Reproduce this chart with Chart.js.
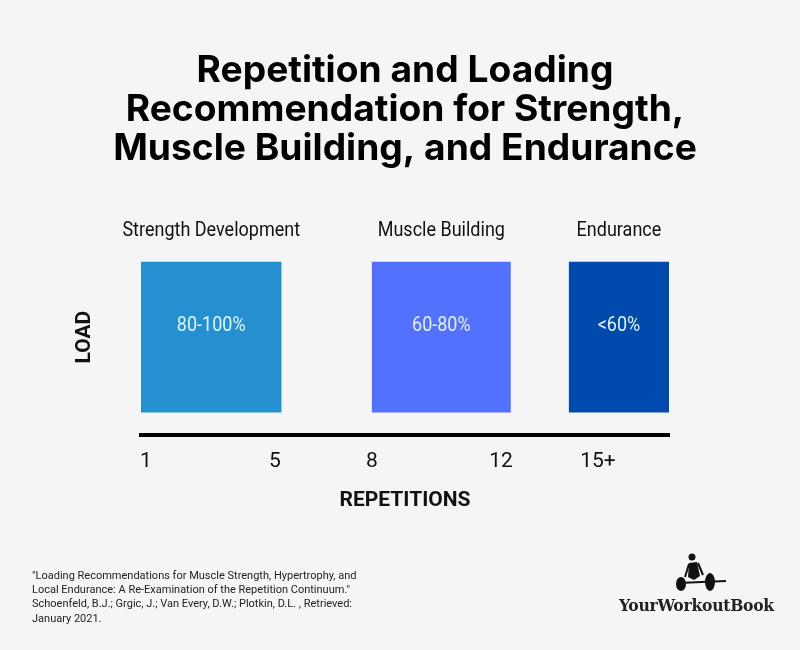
<!DOCTYPE html>
<html>
<head>
<meta charset="utf-8">
<script src="https://cdn.jsdelivr.net/npm/chart.js@4.4.1/dist/chart.umd.min.js"></script>
<style>
  body { margin:0; background:#f5f5f5; }
  #wrap { position:relative; width:800px; height:650px; }
  #note { position:absolute; left:32px; top:569px; font:11px Roboto, sans-serif; line-height:14.2px; color:#222; white-space:nowrap; }
  #logo { position:absolute; left:619px; top:595px; font:bold 17.4px "DejaVu Serif Condensed", serif; color:#222; letter-spacing:-0.3px; }
  #icon { position:absolute; left:670px; top:550px; }
</style>
</head>
<body>
<div id="wrap">
  <canvas id="myChart" width="800" height="650"></canvas>
  <div id="note">"Loading Recommendations for Muscle Strength, Hypertrophy, and<br>Local Endurance: A Re-Examination of the Repetition Continuum."<br>Schoenfeld, B.J.; Grgic, J.; Van Every, D.W.; Plotkin, D.L. , Retrieved:<br>January 2021.</div>
  <svg id="icon" width="60" height="45" viewBox="0 0 60 45">
    <circle cx="22" cy="7" r="3.5" fill="#111"/>
    <path d="M19 13 L27 12 L30 26 L24 30 L18 27 Z" fill="#111"/>
    <path d="M19 14 L15 27 M28 13 L33 25" stroke="#111" stroke-width="2" fill="none"/>
    <line x1="8" y1="33" x2="56" y2="31" stroke="#111" stroke-width="2.2"/>
    <ellipse cx="11" cy="34" rx="5" ry="7" fill="#111"/>
    <ellipse cx="40" cy="32" rx="5" ry="9" fill="#111"/>
  </svg>
  <div id="logo">YourWorkoutBook</div>
</div>
<script>
// goals and their rep ranges (reps axis)
var goals = ['Strength Development', 'Muscle Building', 'Endurance']
var loads = ['80-100%', '60-80%', '<60%']
var repRanges = [[0.85, 5.2], [8, 12.3], [14.1, 17.2]]
var colors = ['#2590cf', '#5271ff', '#004aad']
var tickValues = [1, 5, 8, 12, 15]
var tickLabels = ['1', '5', '8', '12', '15+']

// narrow text like the original condensed face
function narrowText(ctx, text, x, y, sx){
    ctx.save()
    ctx.translate(x, y)
    ctx.scale(sx, 1)
    ctx.fillText(text, 0, 0)
    ctx.restore()
}

var labelPlugin = {
    id: 'boxLabels',
    afterDatasetsDraw(chart){
        var ctx = chart.ctx
        ctx.save()
        ctx.textAlign = 'center'
        ctx.textBaseline = 'middle'
        chart.data.datasets.forEach(function(ds, i){
            var bar = chart.getDatasetMeta(i).data[0]
            var cx = (bar.x + bar.base) / 2
            var top = bar.y - bar.height/2
            ctx.fillStyle = '#111'
            ctx.font = '20px Roboto, sans-serif'
            narrowText(ctx, ds.label, cx, top - 31, 0.9)
            ctx.fillStyle = '#e3f2ff'
            ctx.font = '20px Roboto, sans-serif'
            narrowText(ctx, loads[i], cx, bar.y - 11, 0.9)
        })
        ctx.restore()
    }
}

var datasets = []
for(i=0 ; i<goals.length ; i++){
    datasets.push({
        label: goals[i],
        data: [repRanges[i]],
        backgroundColor: colors[i],
        xAxisID: 'x',
        yAxisID: 'y',
        grouped: false,
        categoryPercentage: 1,
        barPercentage: 0.77
    })
}

new Chart('myChart', {
    type: 'bar',
    data: { labels: ['load'], datasets: datasets },
    plugins: [labelPlugin],
    options: {
        indexAxis: 'y',
        responsive: false,
        animation: false,
        layout: { padding: { left: 10, right: 0, top: 0, bottom: 136 } },
        plugins: {
            legend: { display: false },
            tooltip: { enabled: false },
            title: {
                display: true,
                text: ['Repetition and Loading', 'Recommendation for Strength,', 'Muscle Building, and Endurance'],
                color: '#000',
                font: { family: 'Inter', size: 37.2, weight: 'bold', lineHeight: 1.05 },
                padding: { top: 51, bottom: 71 }
            }
        },
        scales: {
            x: {
                type: 'linear',
                min: 0.85,
                max: 17.2,
                grid: { display: false, drawTicks: false },
                border: { display: true, color: '#000', width: 4 },
                afterBuildTicks: function(axis){
                    axis.ticks = tickValues.map(function(v){ return { value: v } })
                },
                afterFit: function(axis){ axis.height = 79 },
                ticks: {
                    color: '#111',
                    padding: 14,
                    font: { family: 'Roboto', size: 21 },
                    callback: function(v){ return tickLabels[tickValues.indexOf(v)] }
                },
                title: {
                    display: true,
                    text: 'REPETITIONS',
                    color: '#111',
                    font: { family: 'Roboto', size: 21, weight: 'bold' },
                    padding: { top: 0, bottom: 1 }
                }
            },
            y: {
                grid: { display: false, drawTicks: false },
                border: { display: false },
                ticks: { display: false },
                afterFit: function(axis){ axis.width = 131 },
                title: {
                    display: true,
                    text: 'LOAD',
                    color: '#111',
                    font: { family: 'Roboto', size: 21, weight: 'bold' },
                    padding: { top: 62, bottom: 0 }
                }
            },
            y2: {
                type: 'linear',
                position: 'right',
                grid: { display: false, drawTicks: false },
                border: { display: false },
                ticks: { display: false },
                afterFit: function(axis){ axis.width = 131 }
            }
        }
    }
})
</script>
</body>
</html>
